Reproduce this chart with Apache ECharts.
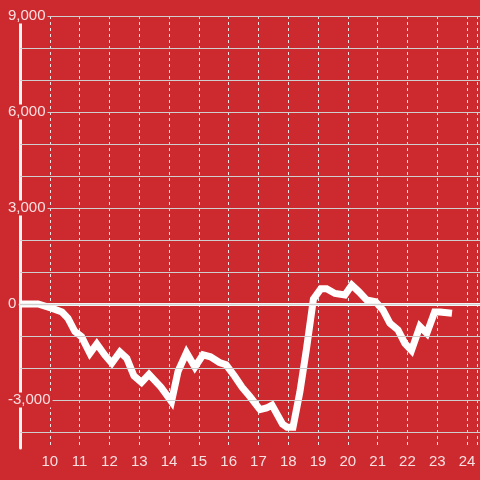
<!DOCTYPE html>
<html>
<head>
<meta charset="utf-8">
<script src="https://cdn.jsdelivr.net/npm/echarts@6/dist/echarts.min.js"></script>
<style>
html,body{margin:0;padding:0;background:#cd2a30;}
#c{width:480px;height:480px;}
</style>
</head>
<body>
<div id="c"></div>
<script>
// Data
var xValues = [9, 9.6, 10.05, 10.4, 10.6, 10.83, 11.05, 11.33, 11.56, 11.83, 12.06, 12.33, 12.56, 12.8, 13.05, 13.3, 13.7, 14.05, 14.27, 14.55, 14.83, 15.1, 15.35, 15.65, 15.87, 16.15, 16.4, 16.67, 17.0, 17.22, 17.4, 17.75, 17.9, 18.1, 18.33, 18.55, 18.78, 19.03, 19.22, 19.5, 19.83, 20.06, 20.3, 20.55, 20.85, 21.1, 21.33, 21.6, 21.83, 22.05, 22.33, 22.56, 22.82, 23.0, 23.4];
var yValues = [0, 0, -130, -250, -450, -860, -1020, -1540, -1250, -1600, -1850, -1500, -1700, -2250, -2450, -2200, -2600, -3050, -2100, -1520, -1970, -1590, -1650, -1830, -1900, -2250, -2600, -2900, -3300, -3250, -3160, -3750, -3850, -3850, -2750, -1400, 150, 480, 480, 330, 280, 590, 380, 130, 70, -190, -600, -810, -1230, -1450, -700, -920, -250, -250, -290];
var xTickLabels = [10, 11, 12, 13, 14, 15, 16, 17, 18, 19, 20, 21, 22, 23, 24];
var yTickLabels = [9000, 6000, 3000, 0, -3000];

var BG = '#cd2a30';
var points = xValues.map(function (x, i) { return [x, yValues[i]]; });
var xMax = 9 + 460 / 30;

function fmt(v) {
  var s = Math.abs(v).toString().replace(/\B(?=(\d{3})+(?!\d))/g, ',');
  return (v < 0 ? '-' : '') + s;
}

var chart = echarts.init(document.getElementById('c'), null, {renderer: 'canvas'});
chart.setOption({
  backgroundColor: BG,
  animation: false,
  grid: [
    {left: 20, right: 0, top: 16, bottom: 48},
    {left: 20, right: 0, top: 16, bottom: 32}
  ],
  xAxis: [
    {
      gridIndex: 0, type: 'value', min: 9, max: xMax,
      axisLine: {show: true, onZero: true, lineStyle: {color: '#f4f4f4', width: 3}},
      axisTick: {show: false}, axisLabel: {show: false}, splitLine: {show: false}, z: 4
    },
    {
      gridIndex: 1, type: 'value', min: 9, max: xMax, interval: 1,
      axisLine: {show: false}, axisTick: {show: false},
      axisLabel: {
        show: true, margin: 6, color: 'rgba(255,255,255,0.85)', fontSize: 15,
        fontFamily: 'Liberation Sans, Arial, sans-serif',
        formatter: function (v) { return xTickLabels.indexOf(Math.round(v)) >= 0 && Math.abs(v - Math.round(v)) < 1e-6 ? String(Math.round(v)) : ''; }
      },
      splitLine: {show: true, lineStyle: {color: '#e6e6e6', width: 1, type: [3, 3]}}, z: 1
    }
  ],
  yAxis: [
    {
      gridIndex: 0, type: 'value', min: -4000, max: 9000, interval: 1000,
      axisLine: {show: false}, axisTick: {show: false},
      axisLabel: {
        show: true, inside: false, margin: 14, align: 'left',
        color: 'rgba(255,255,255,0.85)', fontSize: 15,
        fontFamily: 'Liberation Sans, Arial, sans-serif',
        backgroundColor: BG, padding: [0, 2, 0, 2],
        formatter: function (v) { return yTickLabels.indexOf(v) >= 0 ? fmt(v) : ''; }
      },
      splitLine: {show: true, lineStyle: {color: '#cfcfcf', width: 1}}, z: 5
    },
    {
      gridIndex: 1, type: 'value', min: -4500, max: 9000,
      axisLine: {show: true, lineStyle: {color: '#f4f4f4', width: 3}},
      axisTick: {show: false}, axisLabel: {show: false}, splitLine: {show: false}, z: 2
    }
  ],
  series: [{
    type: 'line', xAxisIndex: 0, yAxisIndex: 0,
    data: points, symbol: 'none', smooth: false,
    lineStyle: {color: '#ffffff', width: 7, cap: 'butt', join: 'miter'},
    z: 3
  }]
});
</script>
</body>
</html>
